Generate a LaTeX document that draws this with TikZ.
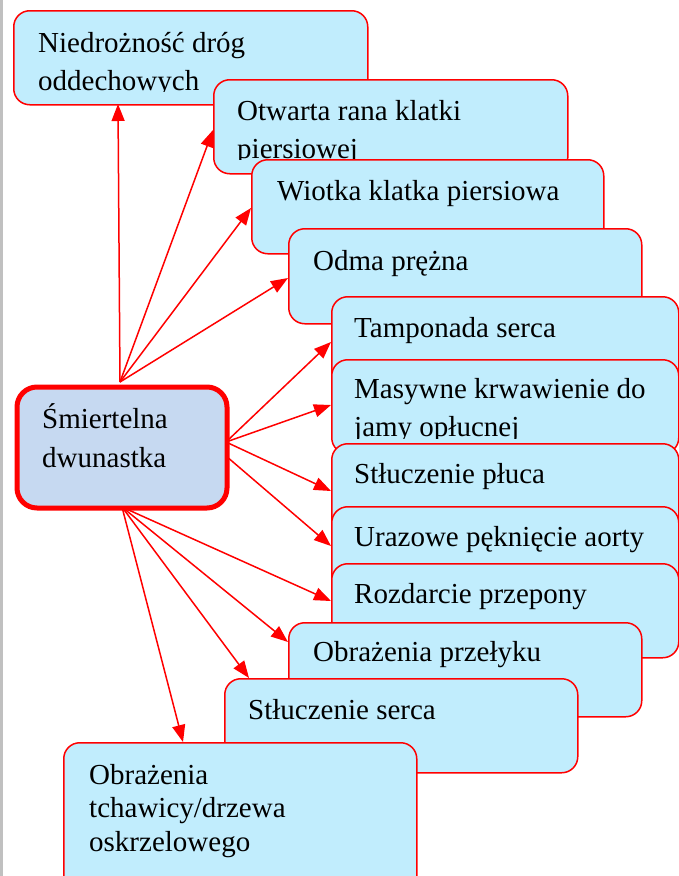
\documentclass[tikz,border=0pt]{standalone}
\usepackage{fontspec}
\setmainfont{Liberation Serif}
\usetikzlibrary{arrows.meta}
\definecolor{boxfill}{RGB}{193,237,253}
\definecolor{hubfill}{RGB}{198,217,241}
\definecolor{edge}{RGB}{255,0,0}
\definecolor{rail}{RGB}{192,192,192}
% stacked lines whose reference point is the first baseline
\newcommand\lines[2]{\vtop{\baselineskip=#1bp\halign{##\hfil\cr#2\crcr}}}
\begin{document}
\begin{tikzpicture}[x=1bp,y=-1bp,
  card/.style={draw=edge, line width=1.5bp, fill=boxfill, rounded corners=16bp,
               anchor=north west, inner sep=0pt},
  hub/.style={draw=edge, line width=5bp, fill=hubfill, rounded corners=20bp,
              anchor=north west, inner sep=0pt},
  label/.style={anchor=base west, inner sep=0pt, font=\fontsize{29bp}{38bp}\selectfont, text=black},
  link/.style={draw=edge, line width=1.5bp, -{Triangle[length=17bp,width=13bp]}}]
\useasboundingbox (0,0) rectangle (679,876);
\clip (0,0) rectangle (679,876);
\fill[white] (0,0) rectangle (679,876);
\fill[rail] (0,0) rectangle (3,876);

% central node
\node[hub, minimum width=210bp, minimum height=121bp] (hub) at (14.5,384.5) {};
\node[label] (hubt) at (42,428) {\lines{39}{Śmiertelna\cr dwunastka}};

% surrounding cards, later ones on top
\node[card, minimum width=354bp, minimum height=94bp] (b1) at (13,10) {};
\begin{scope}\clip (13,10) rectangle (367,91);
\node[label] (b1t) at (38,52) {\lines{38}{Niedrożność dróg\cr oddechowych}};
\end{scope}

\node[card, minimum width=354bp, minimum height=94bp] (b2) at (213,79) {};
\begin{scope}\clip (213,79) rectangle (567,159);
\node[label] (b2t) at (237,120) {\lines{38}{Otwarta rana klatki\cr piersiowej}};
\end{scope}

\node[card, minimum width=352bp, minimum height=94bp] (b3) at (251,159) {};
\node[label] (b3t) at (277,200) {Wiotka klatka piersiowa};

\node[card, minimum width=353bp, minimum height=95bp] (b4) at (288,228) {};
\node[label] (b4t) at (313,270) {Odma prężna};

\node[card, minimum width=347bp, minimum height=94bp] (b5) at (331,296) {};
\node[label] (b5t) at (354,337) {Tamponada serca};

\node[card, minimum width=347bp, minimum height=94bp] (b6) at (331,359) {};
\begin{scope}\clip (331,359) rectangle (678,438);
\node[label] (b6t) at (354,398) {\lines{38}{Masywne krwawienie do\cr jamy opłucnej}};
\end{scope}

\node[card, minimum width=347bp, minimum height=94bp] (b7) at (331,443) {};
\node[label] (b7t) at (354,483) {Stłuczenie płuca};

\node[card, minimum width=347bp, minimum height=94bp] (b8) at (331,506) {};
\node[label] (b8t) at (354,546) {Urazowe pęknięcie aorty};

\node[card, minimum width=347bp, minimum height=94bp] (b9) at (331,563) {};
\node[label] (b9t) at (354,603) {Rozdarcie przepony};

\node[card, minimum width=353bp, minimum height=94bp] (b10) at (288,622) {};
\node[label] (b10t) at (313,661) {Obrażenia przełyku};

\node[card, minimum width=353bp, minimum height=94bp] (b11) at (224,678) {};
\node[label] (b11t) at (248,719) {Stłuczenie serca};

\node[card, minimum width=353bp, minimum height=160bp] (b12) at (63,742) {};
\node[label] (b12t) at (89,784) {\lines{33.5}{Obrażenia\cr tchawicy/drzewa\cr oskrzelowego}};

% connector start points on the central node's border
\coordinate (sN) at (120,382);
\coordinate (sE) at (226,442);
\coordinate (sE2) at (226,456);
\coordinate (sS) at (122,507);

% connector end points on the cards' borders
\coordinate (t1) at (118,104);
\coordinate (t2) at (213,130);
\coordinate (t3) at (251,208);
\coordinate (t4) at (288,278);
\coordinate (t5) at (331,342);
\coordinate (t6) at (331,405);
\coordinate (t7) at (331,491);
\coordinate (t8) at (331,546);
\coordinate (t9) at (331,601);
\coordinate (t10) at (288,642);
\coordinate (t11) at (249,678);
\coordinate (t12) at (183,742);

\draw[link] (sN) -- (t1);
\draw[link] (sN) -- (t2);
\draw[link] (sN) -- (t3);
\draw[link] (sN) -- (t4);
\draw[link] (sE) -- (t5);
\draw[link] (sE) -- (t6);
\draw[link] (sE) -- (t7);
\draw[link] (sE2) -- (t8);
\draw[link] (sS) -- (t9);
\draw[link] (sS) -- (t10);
\draw[link] (sS) -- (t11);
\draw[link] (sS) -- (t12);
\end{tikzpicture}
\end{document}
